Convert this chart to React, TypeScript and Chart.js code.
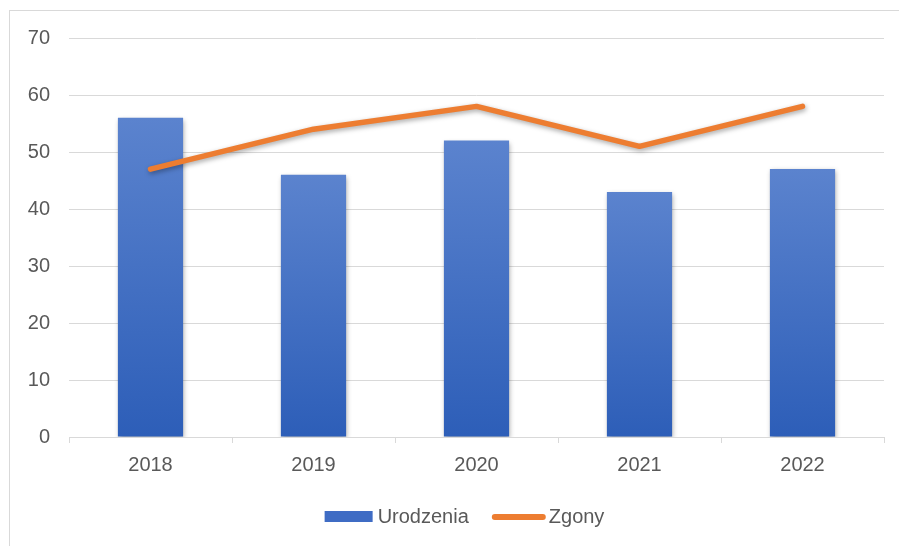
import React, { useEffect, useRef } from "react";
import { Chart, registerables } from "chart.js";

Chart.register(...registerables);

const categories = ["2018", "2019", "2020", "2021", "2022"];
const birthsLabel = "Urodzenia";
const deathsLabel = "Zgony";
const births = [56, 46, 52, 43, 47];
const deaths = [47, 54, 58, 51, 58];
const yMin = 0;
const yMax = 70;
const yStep = 10;

const FONT = "'Liberation Sans', Arial, sans-serif";
const TEXT = "#595959";
const GRID = "#d9d9d9";
const BLUE = "#3F6CC4";
const ORANGE = "#ED7D31";

export default function App() {
  const ref = useRef<HTMLCanvasElement | null>(null);

  useEffect(() => {
    document.body.style.margin = "0";
    const canvas = ref.current!;
    const frame = {
      id: "frame",
      beforeDraw(chart: any) {
        const ctx = chart.ctx;
        ctx.save();
        ctx.fillStyle = "#ffffff";
        ctx.fillRect(0, 0, chart.width, chart.height);
        ctx.strokeStyle = GRID;
        ctx.lineWidth = 1;
        ctx.strokeRect(9.5, 10.5, chart.width + 20, chart.height + 20);
        ctx.restore();
      },
      beforeDatasetDraw(chart: any) {
        const ctx = chart.ctx;
        ctx.save();
        ctx.shadowColor = "rgba(0,0,0,0.35)";
        ctx.shadowBlur = 5;
        ctx.shadowOffsetX = 1;
        ctx.shadowOffsetY = 2;
      },
      afterDatasetDraw(chart: any) {
        chart.ctx.restore();
      },
      afterDraw(chart: any) {
        // legend
        const ctx = chart.ctx;
        const ds = chart.data.datasets;
        ctx.save();
        ctx.font = `20px ${FONT}`;
        ctx.textBaseline = "middle";
        ctx.fillStyle = TEXT;
        const w1 = ctx.measureText(ds[0].label).width;
        const w2 = ctx.measureText(ds[1].label).width;
        const total = 48 + 5 + w1 + 23 + 54 + 3 + w2;
        const cx = chart.chartArea.left + (chart.chartArea.right - chart.chartArea.left) / 2 - 12;
        const y = 517;
        let x = cx - total / 2;
        ctx.fillStyle = BLUE;
        ctx.fillRect(x, y - 6, 48, 11);
        x += 48 + 5;
        ctx.fillStyle = TEXT;
        ctx.fillText(ds[0].label, x, y);
        x += w1 + 23;
        ctx.strokeStyle = ORANGE;
        ctx.lineWidth = 6;
        ctx.lineCap = "round";
        ctx.beginPath();
        ctx.moveTo(x + 3, y);
        ctx.lineTo(x + 51, y);
        ctx.stroke();
        x += 54 + 3;
        ctx.fillText(ds[1].label, x, y);
        ctx.restore();
      },
    };

    const barColor = (c: any) => {
      const chart = c.chart;
      const ys = chart.scales?.y;
      if (!ys || c.parsed == null) return BLUE;
      const top = ys.getPixelForValue(c.parsed.y);
      const base = ys.getPixelForValue(0);
      if (!isFinite(top) || !isFinite(base) || top === base) return BLUE;
      const g = chart.ctx.createLinearGradient(0, top, 0, base);
      g.addColorStop(0, "#5B83CE");
      g.addColorStop(1, "#2D5EB8");
      return g;
    };

    const chart = new Chart(canvas, {
      type: "bar",
      data: {
        labels: categories,
        datasets: [
          {
            type: "bar",
            label: birthsLabel,
            data: births,
            backgroundColor: barColor as any,
            barPercentage: 0.4,
            categoryPercentage: 1,
            order: 1,
          },
          {
            type: "line",
            label: deathsLabel,
            data: deaths,
            borderColor: ORANGE,
            backgroundColor: ORANGE,
            borderWidth: 5.5,
            borderCapStyle: "round",
            borderJoinStyle: "round",
            pointRadius: 0,
            tension: 0,
            order: 0,
          } as any,
        ],
      },
      options: {
        animation: false,
        responsive: false,
        maintainAspectRatio: false,
        layout: { padding: { top: 38, right: 15, bottom: 57, left: 0 } },
        plugins: {
          tooltip: { enabled: false },
          legend: { display: false },
        },
        scales: {
          x: {
            offset: true,
            grid: {
              offset: true,
              drawOnChartArea: false,
              drawTicks: true,
              tickLength: 6,
              color: GRID,
            },
            border: { display: true, color: GRID },
            ticks: { font: { family: FONT, size: 20 }, color: TEXT, padding: 10 },
            afterFit: (s: any) => {
              s.height = 52;
            },
          },
          y: {
            min: yMin,
            max: yMax,
            grid: { color: GRID, drawTicks: false },
            border: { display: false },
            ticks: {
              stepSize: yStep,
              font: { family: FONT, size: 20 },
              color: TEXT,
              padding: 19,
            },
            afterFit: (s: any) => {
              s.width = 69;
            },
          },
        },
      },
      plugins: [frame],
    });
    return () => chart.destroy();
  }, []);

  return (
    <div style={{ width: 899, height: 546 }}>
      <canvas ref={ref} width={899} height={546} style={{ display: "block" }} />
    </div>
  );
}
